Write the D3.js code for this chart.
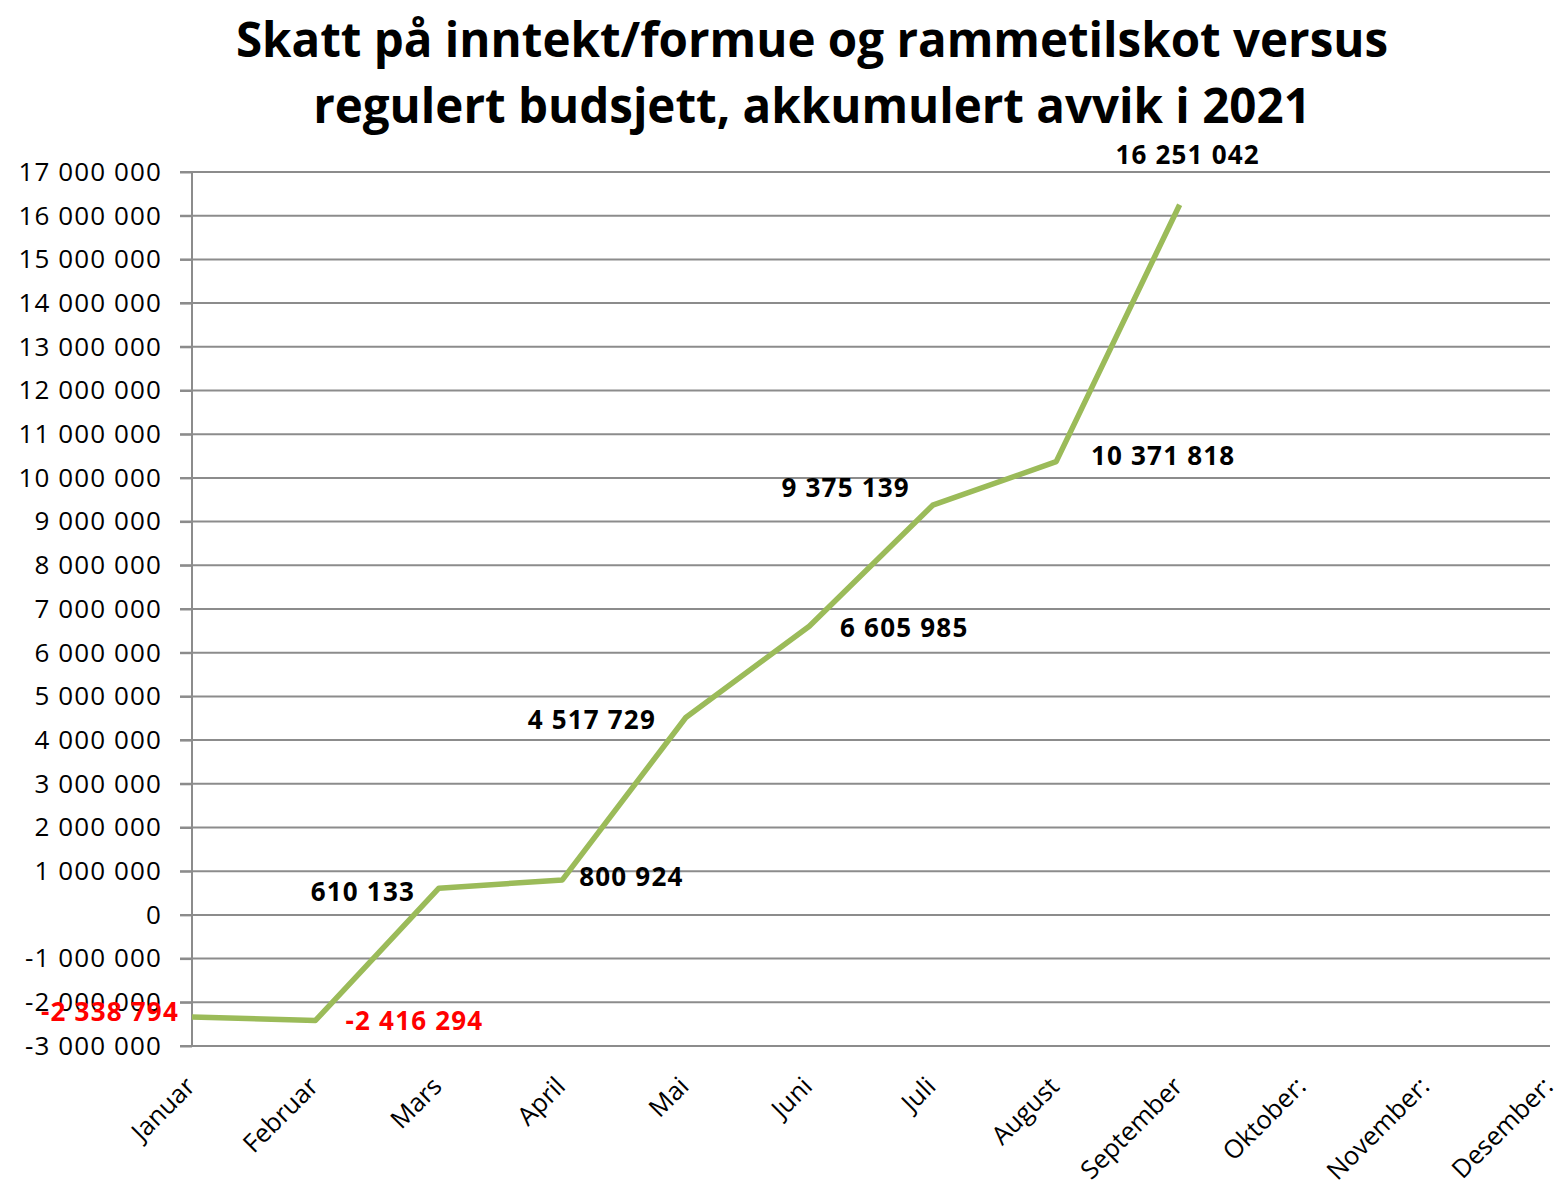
<!DOCTYPE html>
<html><head><meta charset="utf-8">
<script src="https://cdn.jsdelivr.net/npm/d3@7"></script>
<style>body{margin:0;background:#fff;} svg{display:block;}</style>
</head><body>
<svg id="c" width="1561" height="1185"></svg>
<script>
const categories = ["Januar","Februar","Mars","April","Mai","Juni","Juli","August","September","Oktober:","November:","Desember:"];
const values = [-2338794, -2416294, 610133, 800924, 4517729, 6605985, 9375139, 10371818, 16251042];
const yTicks = d3.range(-3000000, 17000001, 1000000);
const titleLines = ["Skatt på inntekt/formue og rammetilskot versus", "regulert budsjett, akkumulert avvik i 2021"];
// label offsets (layout, relative to each point)
const labelOffsets = [[-82,-5],[99,0],[-76,4],[69,-3],[-94,2],[95,2],[-87,-17],[107,-6],[8,-50]];

const svg = d3.select("#c");
const font = "'Open Sans', sans-serif";
const m = {l:192, r:1550, t:172, b:1046};
const x = d3.scalePoint().domain(categories).range([m.l, m.r]).padding(0);
const y = d3.scaleLinear().domain([-3000000, 17000000]).range([m.b, m.t]);
const fmt = v => d3.format(",")(v).replace(/,/g, " ").replace("\u2212", "-");

// title
svg.append("g").selectAll("text").data(titleLines).join("text")
  .attr("x", 812).attr("y", (d,i)=> 57 + i*66)
  .attr("text-anchor","middle").attr("font-family", font).attr("font-weight","bold")
  .attr("font-size", 47.5).attr("fill","#000").text(d=>d);

// gridlines
svg.append("g").selectAll("line").data(yTicks).join("line")
  .attr("x1", m.l-12).attr("x2", m.r).attr("y1", d=>y(d)).attr("y2", d=>y(d))
  .attr("stroke","#8c8c8c").attr("stroke-width",2);

// y axis
const ya = svg.append("g").attr("transform",`translate(${m.l},0)`)
  .call(d3.axisLeft(y).tickValues(yTicks).tickSize(12).tickPadding(18).tickFormat(fmt));
ya.select(".domain").remove();
ya.selectAll(".tick line").attr("stroke","#8c8c8c").attr("stroke-width",2);
ya.selectAll("text").attr("font-family", font).attr("font-size", 26)
  .attr("letter-spacing", 1.1).attr("fill","#000");
svg.append("line").attr("x1",m.l).attr("x2",m.l).attr("y1",m.t).attr("y2",m.b)
  .attr("stroke","#8c8c8c").attr("stroke-width",2);

// x axis labels
const xa = svg.append("g").attr("transform",`translate(0,${m.b})`)
  .call(d3.axisBottom(x).tickSize(0).tickPadding(0));
xa.select(".domain").remove();
xa.selectAll(".tick text")
  .attr("font-family", font).attr("font-size", 25.5).attr("fill","#000")
  .attr("text-anchor","end").attr("dy",0).attr("y",0)
  .attr("transform","translate(4,42) rotate(-45)");

// line
const data = values.map((v,i)=>({c:categories[i], v}));
svg.append("path").datum(data)
  .attr("d", d3.line().x(d=>x(d.c)).y(d=>y(d.v)))
  .attr("fill","none").attr("stroke","#9bbb59").attr("stroke-width",5.5)
  .attr("stroke-linejoin","round");

// data labels
svg.append("g").selectAll("text").data(data).join("text")
  .attr("x", (d,i)=> x(d.c) + labelOffsets[i][0])
  .attr("y", (d,i)=> y(d.v) + labelOffsets[i][1])
  .attr("dy","0.35em").attr("text-anchor","middle")
  .attr("font-family", font).attr("font-weight","bold").attr("font-size", 26)
  .attr("letter-spacing", 1.2)
  .attr("fill", d=> d.v < 0 ? "#ff0000" : "#000")
  .text(d=>fmt(d.v));
</script>
</body></html>
